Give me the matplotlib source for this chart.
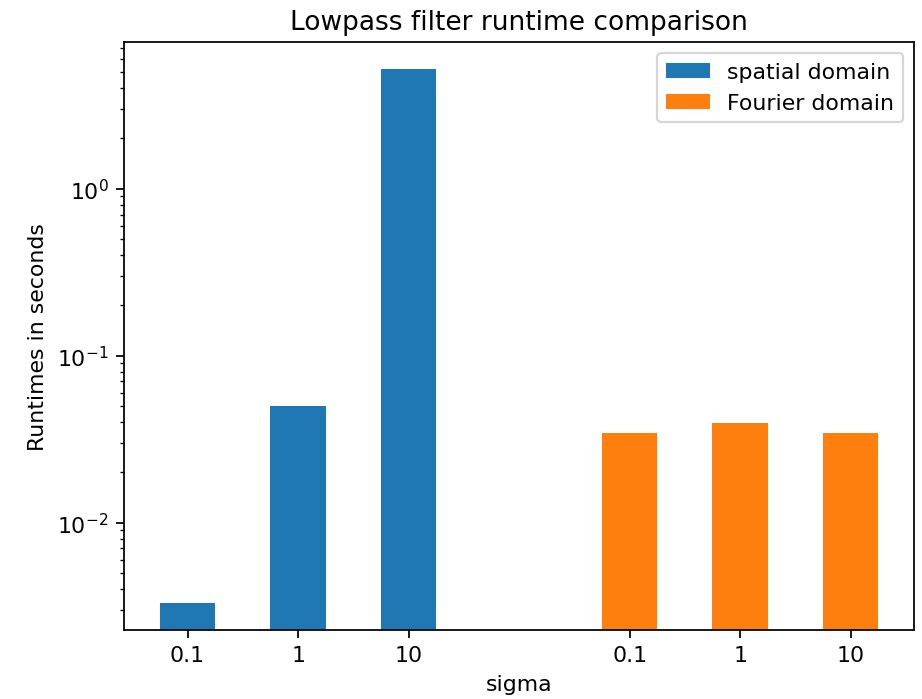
import matplotlib
matplotlib.use('Agg')
import matplotlib.pyplot as plt

sigmas = ['0.1', '1', '10']
spatial_times = [0.0033, 0.050, 5.2]
fourier_times = [0.0344, 0.0393, 0.0344]

spatial_pos = [0, 1, 2]
fourier_pos = [4, 5, 6]

DPI = 158
fig = plt.figure(figsize=(922 / DPI, 700 / DPI), dpi=DPI)
ax = fig.add_axes([0.1345, 0.099, 0.857, 0.839])

ax.bar(spatial_pos, spatial_times, width=0.5, color='#1f77b4', label='spatial domain')
ax.bar(fourier_pos, fourier_times, width=0.5, color='#ff7f0e', label='Fourier domain')
ax.set_yscale('log')

ax.set_xticks(spatial_pos + fourier_pos)
ax.set_xticklabels(sigmas + sigmas)

ax.set_title('Lowpass filter runtime comparison')
ax.set_xlabel('sigma')
ax.set_ylabel('Runtimes in seconds')
ax.legend(loc='upper right')

fig.savefig('out.png', dpi=DPI)
